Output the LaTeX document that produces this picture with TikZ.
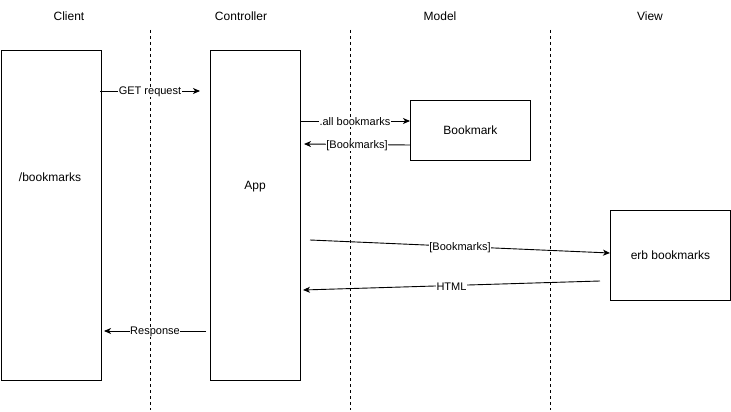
\documentclass[tikz,border=0pt]{standalone}
\usepackage{fontspec}
\setmainfont{Liberation Sans}
\usetikzlibrary{arrows.meta}
\begin{document}
\begin{tikzpicture}[x=1pt,y=-1pt,
  box/.style={draw,line width=0.9pt,fill=white,inner sep=0pt,anchor=north west,font=\fontsize{12}{14}\selectfont},
  head/.style={font=\fontsize{12}{14}\selectfont,inner sep=0pt},
  life/.style={dashed,line width=0.8pt,dash pattern=on 3pt off 3pt},
  msg/.style={line width=0.9pt,-{Stealth[length=7pt,width=6pt,inset=2pt]}},
  lab/.style={fill=white,inner sep=0.5pt,yshift=-1pt,font=\fontsize{11}{13}\selectfont}]
\useasboundingbox (0,0) rectangle (731,412);
% lifelines
\draw[life] (150,30) -- (150,410);
\draw[life] (350,30) -- (350,410);
\draw[life] (550,30) -- (550,410);
% headers
\node[head] (hc) at (69,16) {Client};
\node[head] (hk) at (241,16) {Controller};
\node[head] (hm) at (440,16) {Model};
\node[head] (hv) at (650,16) {View};
% boxes
\node[box,minimum width=100pt,minimum height=330pt] (client) at (0.5,50) {};
\node[head] (clientlab) at (50,177) {/bookmarks};
\node[box,minimum width=90pt,minimum height=330pt] (app) at (210,50) {};
\node[head] (applab) at (255,187) {App};
\node[box,minimum width=120pt,minimum height=60pt] (bm) at (410,100) {Bookmark};
\node[box,minimum width=120pt,minimum height=90pt] (erb) at (610,210) {erb bookmarks};
% coordinates
\coordinate (c1) at (100,91);
\coordinate (a1) at (200,91);
\coordinate (a2) at (300,121);
\coordinate (m2) at (410,121);
\coordinate (m3) at (410,145);
\coordinate (a3) at (304,144);
\coordinate (a4) at (310,240);
\coordinate (v4) at (610,253);
\coordinate (v5) at (600,281);
\coordinate (a5) at (303,290);
\coordinate (a6) at (206,331);
\coordinate (c6) at (104,331);
% messages
\draw[msg] (c1) -- node[lab] {GET request} (a1);
\draw[msg] (a2) -- node[lab,pos=0.5] {.all bookmarks} (m2);
\draw[msg] (m3) -- node[lab,pos=0.5] {[Bookmarks]} (a3);
\draw[msg] (a4) -- node[lab,pos=0.5] {[Bookmarks]} (v4);
\draw[msg] (v5) -- node[lab,pos=0.5] {HTML} (a5);
\draw[msg] (a6) -- node[lab,pos=0.5] {Response} (c6);
\end{tikzpicture}
\end{document}
